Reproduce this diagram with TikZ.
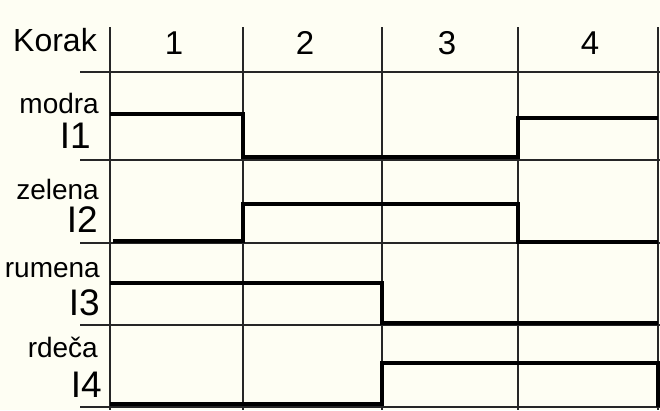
\documentclass[tikz,border=0pt]{standalone}
\usepackage{fontspec}
\setmainfont{Liberation Sans}
\definecolor{bgcream}{RGB}{254,254,243}
\tikzset{
  grid/.style={line width=1.1pt, black!85},
  sig/.style={line width=3.5pt, black, line join=miter},
  head/.style={anchor=base, inner sep=0pt, font=\fontsize{33}{33}\selectfont},
  colname/.style={anchor=base east, inner sep=0pt, font=\fontsize{28}{28}\selectfont},
  inname/.style={anchor=base east, inner sep=0pt, font=\fontsize{37}{37}\selectfont},
}
\begin{document}
\begin{tikzpicture}[x=1pt,y=-1pt]
\fill[bgcream] (0,0) rectangle (660,410);
\useasboundingbox (0,0) rectangle (660,410);
% grid
\foreach \x in {110,243,382,518,658} \draw[grid] (\x,27) -- (\x,410);
\foreach \y in {72,160,243,325,407} \draw[grid] (80,\y) -- (660,\y);
% headers
\node[head, font=\fontsize{32}{32}\selectfont] (korak) at (55,51) {Korak};
\node[head] (k1) at (174,54) {1};
\node[head] (k2) at (305,54) {2};
\node[head] (k3) at (447,54) {3};
\node[head] (k4) at (590,54) {4};
% labels
\node[colname] (modra) at (99,113) {modra};
\node[inname] (i1) at (91,148) {I1};
\node[colname] (zelena) at (99,199) {zelena};
\node[inname] (i2) at (98,232) {I2};
\node[colname] (rumena) at (100,277) {rumena};
\node[inname] (i3) at (100,315) {I3};
\node[colname] (rdeca) at (98,357) {rdeča};
\node[inname] (i4) at (102,397) {I4};
% signals
\draw[sig] (110,114) -- (243,114) -- (243,157) -- (518,157) -- (518,118) -- (658,118);
\draw[sig] (113,241) -- (243,241) -- (243,204) -- (518,204) -- (518,242) -- (658,242);
\draw[sig] (110,283) -- (382,283) -- (382,323) -- (658,323);
\draw[sig] (110,404) -- (382,404) -- (382,363) -- (658,363) -- (658,407);
\end{tikzpicture}
\end{document}
